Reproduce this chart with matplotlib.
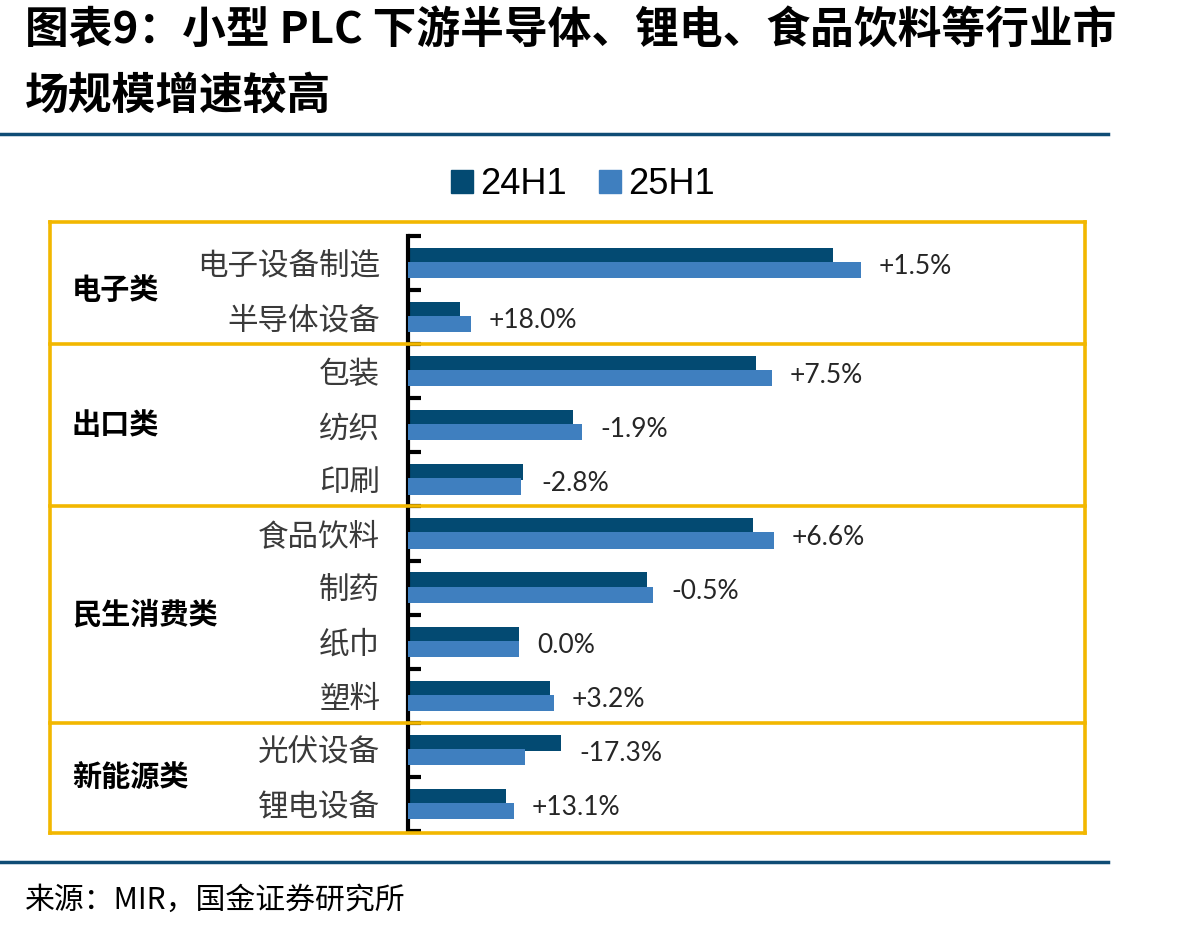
import numpy as np
import matplotlib
matplotlib.use('Agg')
from matplotlib import pyplot as plt
from matplotlib import transforms
from matplotlib.lines import Line2D
from matplotlib.patches import Patch

plt.rcParams['font.family'] = ['Noto Sans CJK SC', 'DejaVu Sans']

# data (bar lengths, arbitrary units)
categories = ['电子设备制造', '半导体设备', '包装', '纺织', '印刷',
              '食品饮料', '制药', '纸巾', '塑料', '光伏设备', '锂电设备']
values_24h1 = [425, 52, 348, 165, 115, 345, 239, 111, 142, 153, 98]
values_25h1 = [453, 63, 364, 174, 113, 366, 245, 111, 146, 117, 106]
growth_labels = ['+1.5%', '+18.0%', '+7.5%', '-1.9%', '-2.8%',
                 '+6.6%', '-0.5%', '0.0%', '+3.2%', '-17.3%', '+13.1%']
groups = ['电子类', '出口类', '民生消费类', '新能源类']
group_sizes = [2, 3, 4, 2]

navy = '#034A72'
blue = '#3F7FBF'
yellow = '#F2B700'
rule = '#0F4C75'

W, H = 1198, 931
fig = plt.figure(figsize=(W / 100, H / 100), dpi=100)
fig.patch.set_facecolor('white')

ax = fig.add_axes([408 / W, 1 - 831 / H, (1085 - 408) / W, (831 - 236) / H])
ax.set_xlim(0, 1085 - 408)
ax.set_ylim(len(categories) - 0.5, -0.5)

y = np.arange(len(categories))
ax.barh(y - 0.13, values_24h1, height=0.3, color=navy, label='24H1', zorder=2)
ax.barh(y + 0.13, values_25h1, height=0.3, color=blue, label='25H1', zorder=3)

for i in range(len(categories)):
    ax.annotate(growth_labels[i], (max(values_24h1[i], values_25h1[i]), i + 0.07),
                xytext=(13, 0), textcoords='offset points', va='center', ha='left',
                fontsize=19, family='Lato', color='#262626')

for side in ['top', 'right', 'bottom']:
    ax.spines[side].set_visible(False)
ax.spines['left'].set_linewidth(3)
ax.set_xticks([])
ax.set_yticks(y, categories)
ax.tick_params(axis='y', which='major', length=0, pad=20, labelsize=22,
               labelcolor='#3a3a3a')
ax.set_yticks(np.arange(-0.5, len(categories)), minor=True)
ax.tick_params(axis='y', which='minor', direction='in', length=9, width=3)

# yellow group boxes
bt = transforms.blended_transform_factory(fig.transFigure, ax.transData)
x0, x1 = 50 / W, 1085 / W
bounds = np.cumsum([0] + group_sizes) - 0.5
top, bottom = -0.76, bounds[-1] + 0.04
for yy in [top, bottom] + list(bounds[1:-1]):
    fig.add_artist(Line2D([x0, x1], [yy, yy], transform=bt, color=yellow,
                          lw=2.6, clip_on=False))
for xx in [x0, x1]:
    fig.add_artist(Line2D([xx, xx], [top, bottom], transform=bt, color=yellow,
                          lw=2.6, clip_on=False))
for g, b0, b1 in zip(groups, bounds[:-1], bounds[1:]):
    fig.text(72 / W, (b0 + b1) / 2, g, transform=bt, ha='left', va='center',
             fontsize=21, fontweight='bold', color='black')

# legend
handles = [Patch(color=navy), Patch(color=blue)]
fig.legend(handles, ['24H1', '25H1'], loc='center', ncol=2,
           bbox_to_anchor=(583 / W, 1 - 185 / H), frameon=False,
           prop={'family': 'Liberation Sans', 'size': 26},
           handlelength=0.6, handleheight=0.6, handletextpad=0.2,
           columnspacing=0.9)

# title, rules and source
fig.text(25 / W, 1 - 30 / H, '图表9：小型 PLC 下游半导体、锂电、食品饮料等行业市',
         fontsize=31.5, fontweight='bold', va='center', ha='left')
fig.text(25 / W, 1 - 96 / H, '场规模增速较高',
         fontsize=31.5, fontweight='bold', va='center', ha='left')
fig.add_artist(Line2D([0, 1108 / W], [1 - 134 / H] * 2, transform=fig.transFigure,
                      color=rule, lw=2.5))
fig.add_artist(Line2D([0, 1108 / W], [1 - 862 / H] * 2, transform=fig.transFigure,
                      color=rule, lw=2.5))
fig.text(25 / W, 1 - 900 / H, '来源：MIR，国金证券研究所', fontsize=21.5,
         va='center', ha='left', color='black')

fig.savefig('out.png', dpi=100, facecolor='white')
